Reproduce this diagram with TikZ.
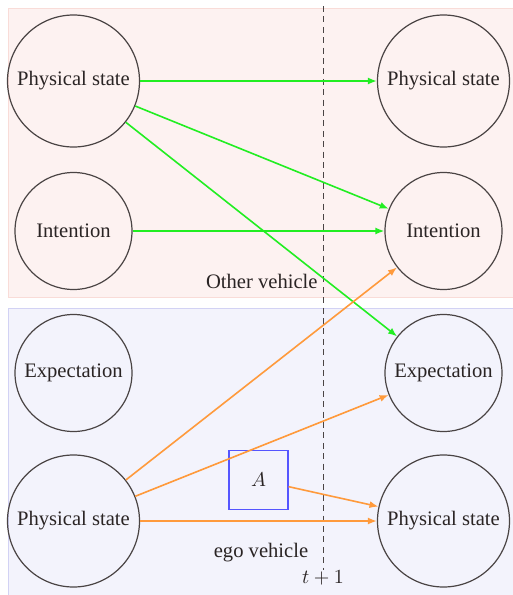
\documentclass[tikz,border=0pt]{standalone}
\usepackage{fontspec}
\setmainfont{Liberation Serif}
\usetikzlibrary{arrows.meta}
\definecolor{circdraw}{HTML}{4A4444}
\definecolor{txt}{HTML}{2A2424}
\definecolor{grn}{HTML}{22EE22}
\definecolor{org}{HTML}{FF9A3C}
\definecolor{pinkbg}{HTML}{FDF2F1}
\definecolor{pinkbd}{HTML}{F9DCD8}
\definecolor{bluebg}{HTML}{F3F3FC}
\definecolor{bluebd}{HTML}{D2D2F4}
\definecolor{boxblue}{HTML}{5555FF}
\tikzset{
  bigcirc/.style={circle,draw=circdraw,line width=0.6pt,minimum size=66pt,inner sep=0pt,text=txt,font=\fontsize{10.3}{12}\selectfont},
  smallcirc/.style={circle,draw=circdraw,line width=0.6pt,minimum size=58.5pt,inner sep=0pt,text=txt,font=\fontsize{10.3}{12}\selectfont},
  garrow/.style={draw=grn,line width=0.8pt,-{Latex[length=4.5pt,width=3.5pt]}},
  oarrow/.style={draw=org,line width=0.8pt,-{Latex[length=4.5pt,width=3.5pt]}},
  lbl/.style={text=txt,font=\fontsize{10.3}{12}\selectfont,inner sep=0pt}
}
\begin{document}
\begin{tikzpicture}[x=0.5pt,y=-0.5pt]
\useasboundingbox (0,0) rectangle (513,595);
\fill[white] (0,0) rectangle (513,595);
\draw[pinkbd,fill=pinkbg,line width=0.5pt] (8,8) rectangle (513,297);
\draw[bluebd,fill=bluebg,line width=0.5pt] (8,308) rectangle (513,595);

\node[bigcirc] (ps1) at (73.5,81) {Physical state};
\node[smallcirc] (in1) at (73.5,231) {Intention};
\node[smallcirc] (ex1) at (73.5,373) {Expectation};
\node[bigcirc] (ps0) at (73.5,521) {Physical state};

\node[bigcirc] (ps2) at (443.5,81) {Physical state};
\node[smallcirc] (in2) at (443.5,231) {Intention};
\node[smallcirc] (ex2) at (443.5,373) {Expectation};
\node[bigcirc] (ps3) at (443.5,521) {Physical state};

\node[draw=boxblue,line width=0.6pt,minimum size=29.5pt,inner sep=0pt,text=txt,font=\fontsize{10.3}{12}\selectfont] (a) at (258.5,480) {$A$};

\coordinate (dtop) at (323,6);
\coordinate (dbot) at (323,570);
\draw[circdraw,line width=0.5pt,dash pattern=on 3pt off 2.2pt] (dtop) -- (dbot);
\node[lbl] (t1) at (323,578) {$t+1$};

\node[lbl,anchor=east] (ov) at (318,281) {Other vehicle};
\node[lbl] (ego) at (261,553) {ego vehicle};

\draw[garrow] (ps1) -- (ps2);
\draw[garrow] (ps1) -- (in2);
\draw[garrow] (ps1) -- (ex2);
\draw[garrow] (in1) -- (in2);

\draw[oarrow] (ps0) -- (in2);
\draw[oarrow] (ps0) -- (ex2);
\draw[oarrow] (ps0) -- (ps3);
\draw[oarrow] (a) -- (ps3);
\end{tikzpicture}
\end{document}
